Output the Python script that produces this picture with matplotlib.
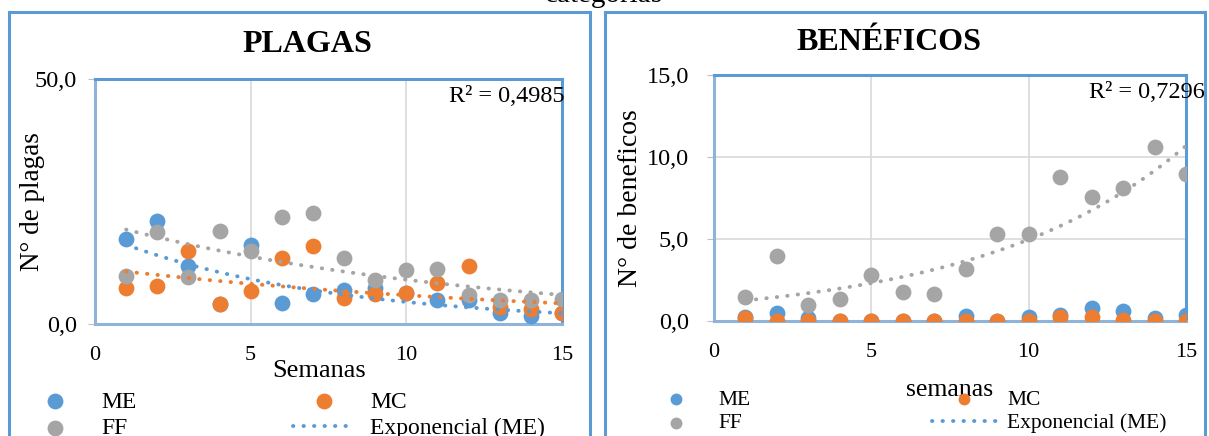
import matplotlib
matplotlib.use("Agg")
import matplotlib.pyplot as plt
from matplotlib.lines import Line2D
from matplotlib.patches import Rectangle
from matplotlib.ticker import FuncFormatter
import numpy as np

plt.rcParams['font.family'] = ['Liberation Serif', 'DejaVu Serif']

semanas = [1, 2, 3, 4, 5, 6, 7, 8, 9, 10, 11, 12, 13, 14, 15]

# PLAGAS
plagas_me = [17.3, 21.1, 11.8, 4.0, 16.1, 4.2, 6.1, 6.9, 7.3, 6.3, 5.0, 4.9, 2.3, 1.6, 2.2]
plagas_mc = [7.4, 7.8, 15.0, 4.0, 6.8, 13.5, 15.9, 5.4, 6.1, 6.4, 8.3, 11.9, 3.5, 3.0, 2.3]
plagas_ff = [9.8, 18.8, 9.5, 19.0, 15.0, 21.9, 22.6, 13.4, 9.0, 11.0, 11.2, 5.9, 4.9, 5.0, 5.2]

# BENEFICOS
benef_me = [0.26, 0.51, 0.2, 0.0, 0.0, 0.0, 0.0, 0.33, 0.0, 0.22, 0.37, 0.77, 0.61, 0.2, 0.37]
benef_mc = [0.16, 0.0, 0.0, 0.0, 0.0, 0.0, 0.0, 0.0, 0.0, 0.0, 0.26, 0.22, 0.05, 0.0, 0.0]
benef_ff = [1.48, 3.96, 0.98, 1.32, 2.8, 1.79, 1.63, 3.15, 5.3, 5.3, 8.8, 7.54, 8.13, 10.63, 8.96]

BLUE = '#5B9BD5'
ORANGE = '#ED7D31'
GRAY = '#A5A5A5'
BORDER = '#5B9BD5'
DOTS = (0, (0.1, 2.6))
MS = 130


def exp_trend(x, y):
    x = np.asarray(x, float)
    y = np.asarray(y, float)
    b, ln_a = np.polyfit(x, np.log(y), 1)
    xs = np.linspace(x.min(), x.max(), 100)
    return xs, np.exp(ln_a) * np.exp(b * xs)


def fmt_comma(v, pos):
    return f'{v:.1f}'.replace('.', ',')


def style_axes(ax, ymax, ystep):
    ax.set_xlim(0, 15)
    ax.set_ylim(0, ymax)
    ax.set_xticks([0, 5, 10, 15])
    ax.set_yticks(np.arange(0, ymax + 0.1, ystep))
    ax.yaxis.set_major_formatter(FuncFormatter(fmt_comma))
    ax.grid(True, color='#D9D9D9', linewidth=1.2, zorder=0)
    ax.set_axisbelow(True)
    for side in ['top', 'right']:
        ax.spines[side].set_color(BORDER)
        ax.spines[side].set_linewidth(2.2)
    for side in ['left', 'bottom']:
        ax.spines[side].set_color('#8FB3D9')
        ax.spines[side].set_linewidth(2.2)
    ax.tick_params(axis='x', length=0, labelsize=16)
    ax.tick_params(axis='y', length=5, color='#BFBFBF', labelsize=17.5)


fig = plt.figure(figsize=(12.09, 4.36), dpi=100)

# chart area borders
fig.patches.append(Rectangle((9 / 1209, -0.05), 581 / 1209, 1.05 - 12 / 436,
                             transform=fig.transFigure, fill=False,
                             edgecolor=BORDER, linewidth=2.2))
fig.patches.append(Rectangle((605 / 1209, -0.05), 600 / 1209, 1.05 - 12 / 436,
                             transform=fig.transFigure, fill=False,
                             edgecolor=BORDER, linewidth=2.2))

fig.text(604 / 1209, 1 - 2 / 436, 'categorias', ha='center', va='baseline', fontsize=21)

# ---------------- PLAGAS ----------------
ax1 = fig.add_axes([95 / 1209, 112 / 436, 467 / 1209, 245 / 436])
style_axes(ax1, 50, 50)
ax1.tick_params(axis='y', pad=8)
ax1.tick_params(axis='x', pad=16)

h_me = ax1.scatter(semanas, plagas_me, s=MS, color=BLUE, label='ME', zorder=3, linewidths=0)
h_mc = ax1.scatter(semanas, plagas_mc, s=MS, color=ORANGE, label='MC', zorder=3, linewidths=0)
h_ff = ax1.scatter(semanas, plagas_ff, s=MS, color=GRAY, label='FF', zorder=3, linewidths=0)

xs, ys = exp_trend(semanas, plagas_me)
h_exp, = ax1.plot(xs, ys, color=BLUE, lw=2.8, linestyle=DOTS, dash_capstyle='round',
                  label='Exponencial (ME)', zorder=4)
xs, ys = exp_trend(semanas, plagas_mc)
ax1.plot(xs, ys, color=ORANGE, lw=2.8, linestyle=DOTS, dash_capstyle='round', zorder=4)
xs, ys = exp_trend(semanas, plagas_ff)
ax1.plot(xs, ys, color=GRAY, lw=2.8, linestyle=DOTS, dash_capstyle='round', zorder=4)

ax1.set_xlabel('Semanas', fontsize=19)
ax1.xaxis.set_label_coords(0.48, -0.145)
ax1.set_ylabel('N° de plagas', fontsize=19.5)
ax1.yaxis.set_label_coords(-0.107, 0.5)
ax1.text(1.005, 0.93, 'R² = 0,4985', transform=ax1.transAxes, ha='right', va='center', fontsize=17.5)

fig.text(307 / 1209, 1 - 44 / 436, 'PLAGAS', ha='center', va='center', fontsize=23, fontweight='bold')

fig.legend([h_me, h_ff, h_mc, h_exp], ['ME', 'FF', 'MC', 'Exponencial (ME)'],
           ncol=2, loc='upper left', bbox_to_anchor=(23.5 / 1209, 1 - 391 / 436),
           frameon=False, fontsize=17, borderpad=0, borderaxespad=0, labelspacing=0.2,
           handlelength=2.7, handletextpad=0.6, columnspacing=6.6, scatterpoints=1,
           markerscale=1.0)

# ---------------- BENEFICOS ----------------
ax2 = fig.add_axes([714 / 1209, 115 / 436, 472 / 1209, 246 / 436])
style_axes(ax2, 15, 5)
ax2.tick_params(axis='y', pad=13)
ax2.tick_params(axis='x', pad=16)

g_me = ax2.scatter(semanas, benef_me, s=MS, color=BLUE, label='ME', zorder=3, linewidths=0)
g_mc = ax2.scatter(semanas, benef_mc, s=MS, color=ORANGE, label='MC', zorder=3, linewidths=0)
g_ff = ax2.scatter(semanas, benef_ff, s=MS, color=GRAY, label='FF', zorder=3, linewidths=0)

xs, ys = exp_trend(semanas, benef_ff)
ax2.plot(xs, ys, color=GRAY, lw=2.8, linestyle=DOTS, dash_capstyle='round', zorder=4)
g_exp = Line2D([], [], color=BLUE, lw=2.8, linestyle=DOTS, dash_capstyle='round')

ax2.set_xlabel('semanas', fontsize=18.5)
ax2.xaxis.set_label_coords(0.5, -0.235)
ax2.set_ylabel('N° de beneficos', fontsize=20)
ax2.yaxis.set_label_coords(-0.15, 0.5)
ax2.text(1.04, 0.93, 'R² = 0,7296', transform=ax2.transAxes, ha='right', va='center', fontsize=17.5)

fig.text(889 / 1209, 1 - 43 / 436, 'BENÉFICOS', ha='center', va='center', fontsize=23, fontweight='bold')

fig.legend([g_me, g_ff, g_mc, g_exp], ['ME', 'FF', 'MC', 'Exponencial (ME)'],
           ncol=2, loc='upper left', bbox_to_anchor=(643.5 / 1209, 1 - 390 / 436),
           frameon=False, fontsize=15.5, borderpad=0, borderaxespad=0, labelspacing=0.15,
           handlelength=3.0, handletextpad=0.5, columnspacing=8.4, scatterpoints=1,
           markerscale=0.75)

fig.savefig('out.png', dpi=100)
